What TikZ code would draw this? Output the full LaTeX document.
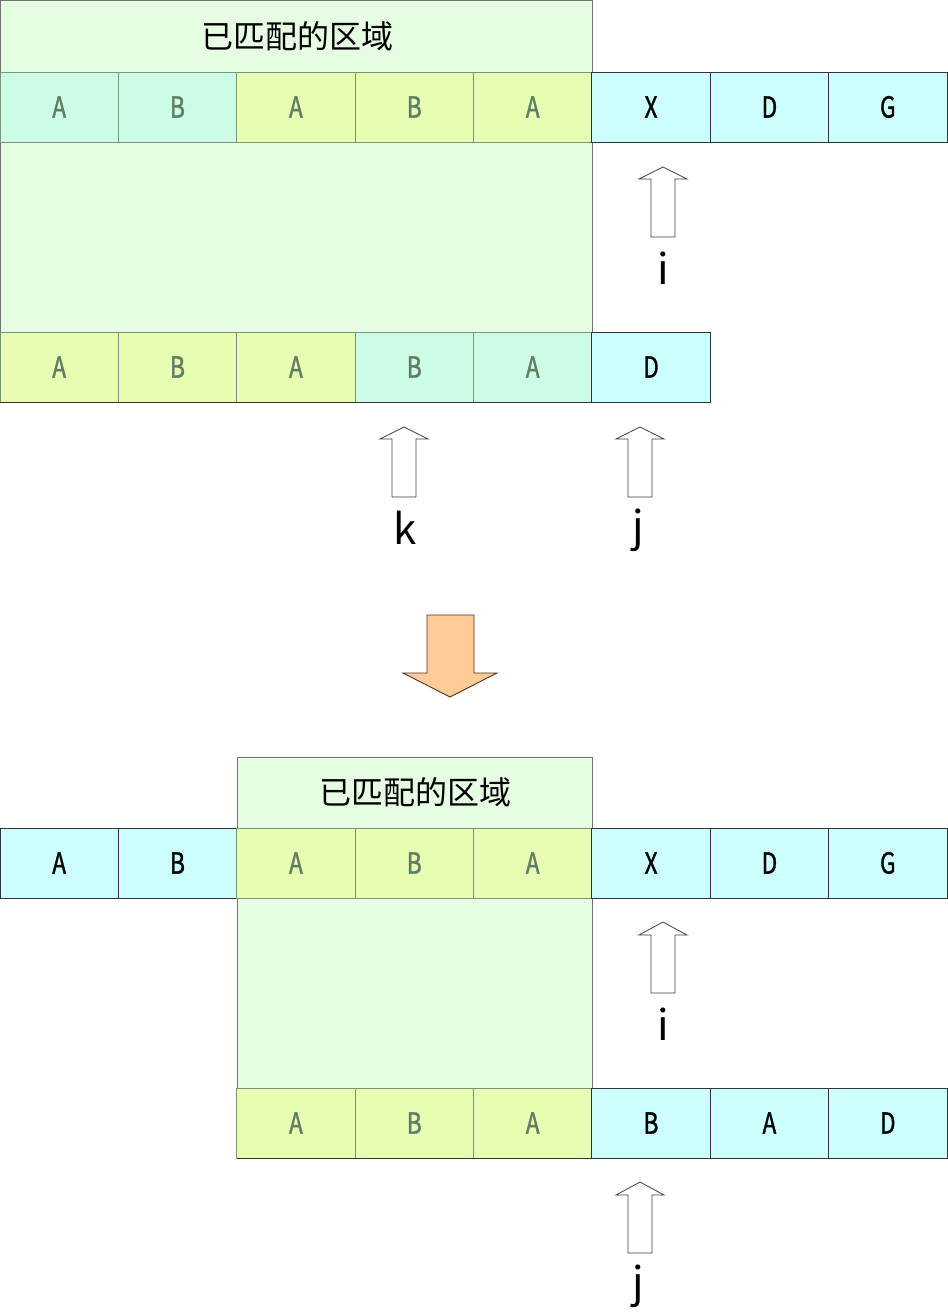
\documentclass[tikz,border=0pt]{standalone}
\usepackage{fontspec}
\setmainfont{Noto Sans CJK SC}
\newfontfamily\letterfont[FakeStretch=0.78,FakeBold=1.2]{Noto Sans CJK SC}
\definecolor{bggreen}{RGB}{230,253,228}
\definecolor{mint}{RGB}{204,252,229}
\definecolor{ygreen}{RGB}{230,253,178}
\definecolor{cyanc}{RGB}{204,255,255}
\definecolor{dimtext}{RGB}{95,125,100}
\definecolor{matchline}{RGB}{120,150,125}
\definecolor{orangef}{RGB}{255,204,153}
\begin{document}
\begin{tikzpicture}[x=1pt,y=-1pt,
  cell/.style={draw, line width=0.8pt, minimum width=118.375pt, minimum height=70pt, inner sep=0pt, outer sep=0pt, font=\letterfont\fontsize{29}{29}\selectfont},
  mcell/.style={cell, draw=matchline, text=dimtext},
  ccell/.style={cell, draw=black!80, fill=cyanc, text=black},
  region/.style={draw=black!55, line width=0.9pt, fill=bggreen, inner sep=0pt, outer sep=0pt, anchor=north west},
  head/.style={font=\fontsize{32}{32}\selectfont, inner sep=0pt},
  lab/.style={font=\fontsize{42}{42}\selectfont, inner sep=0pt},
  hollow/.style={draw=black!75, line width=0.8pt, fill=white},
  bigarrow/.style={draw=black!60!brown, line width=0.9pt, fill=orangef}]
\useasboundingbox (0,0) rectangle (947,1313);
\fill[white] (0,0) rectangle (947,1313);

% ---------- top part ----------
\node[region, minimum width=592pt, minimum height=402pt] (m1) at (0,0) {};
\node[head] (h1) at (297,36) {已匹配的区域};

% row 1
\node[mcell, fill=mint]   (a1) at (59.19,107) {A};
\node[mcell, fill=mint]   (a2) at (177.56,107) {B};
\node[mcell, fill=ygreen] (a3) at (295.94,107) {A};
\node[mcell, fill=ygreen] (a4) at (414.31,107) {B};
\node[mcell, fill=ygreen] (a5) at (532.69,107) {A};
\node[ccell] (a6) at (651.06,107) {X};
\node[ccell] (a7) at (769.44,107) {D};
\node[ccell] (a8) at (887.81,107) {G};

% row 2
\node[mcell, fill=ygreen] (b1) at (59.19,367) {A};
\node[mcell, fill=ygreen] (b2) at (177.56,367) {B};
\node[mcell, fill=ygreen] (b3) at (295.94,367) {A};
\node[mcell, fill=mint]   (b4) at (414.31,367) {B};
\node[mcell, fill=mint]   (b5) at (532.69,367) {A};
\node[ccell] (b6) at (651.06,367) {D};
\draw[black!80, line width=0.9pt] (0,402) -- (592,402);

% hollow arrows (top)
\draw[hollow] (651,237) -- (651,179) -- (639,179) -- (663,167) -- (687,179) -- (675,179) -- (675,237) -- cycle;
\node[lab] (i1) at (663,268) {i};
\draw[hollow] (392,497) -- (392,439) -- (380,439) -- (404,427) -- (428,439) -- (416,439) -- (416,497) -- cycle;
\node[lab] (k1) at (405,528) {k};
\draw[hollow] (628,497) -- (628,439) -- (616,439) -- (640,427) -- (664,439) -- (652,439) -- (652,497) -- cycle;
\node[lab] (j1) at (638,530) {j};

% big orange arrow
\draw[bigarrow] (427,615) -- (474,615) -- (474,673) -- (497,673) -- (450,697) -- (403,673) -- (427,673) -- cycle;

% ---------- bottom part ----------
\node[region, minimum width=355pt, minimum height=401pt] (m2) at (237,757) {};
\node[head] (h2) at (415,792) {已匹配的区域};

% row 3
\node[ccell] (c1) at (59.19,863) {A};
\node[ccell] (c2) at (177.56,863) {B};
\node[mcell, fill=ygreen] (c3) at (295.94,863) {A};
\node[mcell, fill=ygreen] (c4) at (414.31,863) {B};
\node[mcell, fill=ygreen] (c5) at (532.69,863) {A};
\node[ccell] (c6) at (651.06,863) {X};
\node[ccell] (c7) at (769.44,863) {D};
\node[ccell] (c8) at (887.81,863) {G};

% row 4
\node[mcell, fill=ygreen] (d3) at (295.94,1123) {A};
\node[mcell, fill=ygreen] (d4) at (414.31,1123) {B};
\node[mcell, fill=ygreen] (d5) at (532.69,1123) {A};
\node[ccell] (d6) at (651.06,1123) {B};
\node[ccell] (d7) at (769.44,1123) {A};
\node[ccell] (d8) at (887.81,1123) {D};
\draw[black!80, line width=0.9pt] (237,1158) -- (592,1158);

% hollow arrows (bottom)
\draw[hollow] (651,993) -- (651,935) -- (639,935) -- (663,922) -- (687,935) -- (675,935) -- (675,993) -- cycle;
\node[lab] (i2) at (663,1024) {i};
\draw[hollow] (628,1253) -- (628,1195) -- (616,1195) -- (640,1182) -- (664,1195) -- (652,1195) -- (652,1253) -- cycle;
\node[lab] (j2) at (638,1286) {j};
\end{tikzpicture}
\end{document}
